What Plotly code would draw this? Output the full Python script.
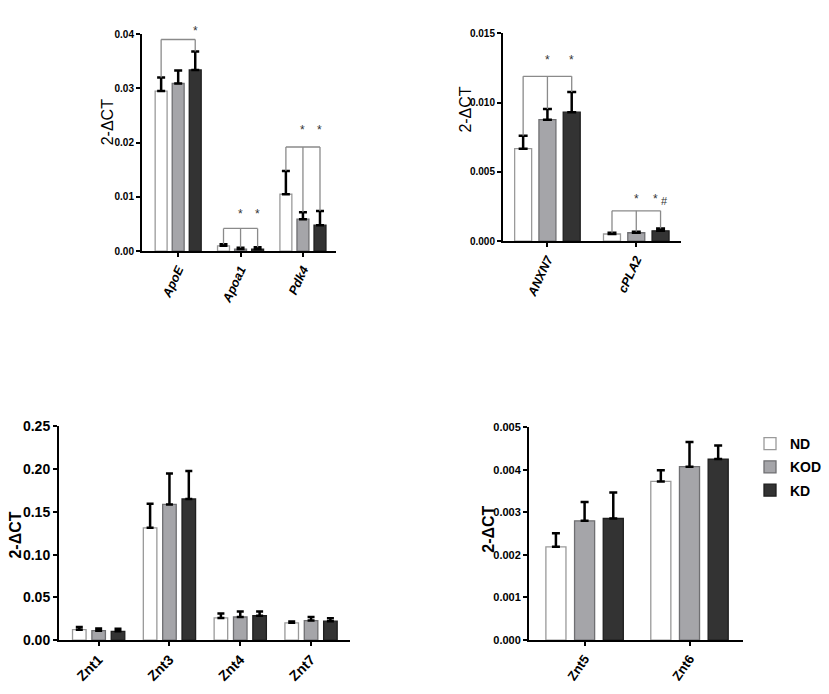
import plotly.graph_objects as go

# ---------------- data ----------------
groups = ["ND", "KOD", "KD"]

genes_a = ["ApoE", "Apoa1", "Pdk4"]
nd_a = [0.0295, 0.0010, 0.0105]
nd_a_err = [0.0025, 0.0003, 0.0043]
kod_a = [0.0309, 0.0004, 0.0059]
kod_a_err = [0.0024, 0.00025, 0.0013]
kd_a = [0.0334, 0.0004, 0.0048]
kd_a_err = [0.0034, 0.00035, 0.0026]

genes_b = ["ANXN7", "cPLA2"]
nd_b = [0.00668, 0.00052]
nd_b_err = [0.00094, 0.00009]
kod_b = [0.00877, 0.00061]
kod_b_err = [0.00078, 0.00007]
kd_b = [0.00931, 0.00075]
kd_b_err = [0.00146, 0.00017]

genes_c = ["Znt1", "Znt3", "Znt4", "Znt7"]
nd_c = [0.0122, 0.1313, 0.0259, 0.0202]
nd_c_err = [0.0030, 0.0281, 0.0053, 0.0015]
kod_c = [0.0110, 0.1587, 0.0270, 0.0228]
kod_c_err = [0.0027, 0.0361, 0.0065, 0.0042]
kd_c = [0.0103, 0.1651, 0.0285, 0.0221]
kd_c_err = [0.0030, 0.0328, 0.0050, 0.0034]

genes_d = ["Znt5", "Znt6"]
nd_d = [0.00219, 0.003725]
nd_d_err = [0.00032, 0.00026]
kod_d = [0.00280, 0.00407]
kod_d_err = [0.00044, 0.00058]
kd_d = [0.002855, 0.00425]
kd_d_err = [0.00061, 0.00032]

# significance brackets: (gene index, bracket level, groups with drop lines, star level, groups with stars)
sig_a = [(0, 0.0390, [0, 2], 0.0411, [2]),
         (1, 0.0042, [0, 1, 2], 0.0075, [1, 2]),
         (2, 0.0192, [0, 1, 2], 0.0229, [1, 2])]
sig_b = [(0, 0.0119, [0, 1, 2], 0.0133, [1, 2]),
         (1, 0.00219, [0, 1, 2], 0.00324, [1, 2])]
hash_b = (1, 2, 0.0029)  # gene index, group index, level of '#'

# ---------------- style ----------------
fills = ["#ffffff", "#a5a5a9", "#333333"]
outlines = ["#9a9a9a", "#6f6f72", "#1e1e1e"]
BARGAP = 0.18
SLOT = (1 - BARGAP) / 3
W, H = 829, 694

def px_dom(a, b):
    return [a / W, b / W]

def py_dom(top, bottom):
    return [1 - bottom / H, 1 - top / H]

panels = [
    dict(genes=genes_a, vals=[nd_a, kod_a, kd_a], errs=[nd_a_err, kod_a_err, kd_a_err],
         xd=px_dom(142, 336), yd=py_dom(26.7, 249), xr=[-0.58, 2.53], yr=[0, 0.04], dt=0.01, fmt=".2f",
         ticksz=10, xsz=12.5, xang=-65, xit="italic",
         cap=4, thick=2.5, title=(107, 117), tsz=16, tw="normal", legend=False),
    dict(genes=genes_b, vals=[nd_b, kod_b, kd_b], errs=[nd_b_err, kod_b_err, kd_b_err],
         xd=px_dom(503, 680.7), yd=py_dom(26, 238.7), xr=[-0.5, 1.5], yr=[0, 0.015], dt=0.005, fmt=".3f",
         ticksz=10, xsz=12.5, xang=-65, xit="italic",
         cap=4.5, thick=2.5, title=(466, 104), tsz=16, tw="normal", legend=False),
    dict(genes=genes_c, vals=[nd_c, kod_c, kd_c], errs=[nd_c_err, kod_c_err, kd_c_err],
         xd=px_dom(59, 350), yd=py_dom(428.3, 647), xr=[-0.56, 3.55], yr=[0, 0.25], dt=0.05, fmt=".2f",
         ticksz=14, xsz=14, xang=-45, xit="normal",
         cap=3.5, thick=2.5, title=(16, 539), tsz=16, tw="bold", legend=False),
    dict(genes=genes_d, vals=[nd_d, kod_d, kd_d], errs=[nd_d_err, kod_d_err, kd_d_err],
         xd=px_dom(529, 743), yd=py_dom(429, 647), xr=[-0.53, 1.51], yr=[0, 0.005], dt=0.001, fmt=".3f",
         ticksz=11, xsz=13, xang=-55, xit="normal",
         cap=4, thick=2.5, title=(489, 534), tsz=16, tw="bold", legend=True),
]

fig = go.Figure()
shapes = []
annotations = []

for i, p in enumerate(panels, start=1):
    xa = "x" if i == 1 else f"x{i}"
    ya = "y" if i == 1 else f"y{i}"
    for g in range(3):
        fig.add_trace(go.Bar(
            x=p["genes"], y=p["vals"][g], name=groups[g],
            xaxis=xa, yaxis=ya,
            marker=dict(color=fills[g], line=dict(color=outlines[g], width=1.3)),
            error_y=dict(type="data", symmetric=False, array=p["errs"][g],
                         arrayminus=[0] * len(p["genes"]),
                         color="#000000", thickness=p["thick"], width=p["cap"]),
            showlegend=p["legend"], legendgroup=groups[g],
        ))
    axis_common = dict(showline=True, linecolor="#000000", linewidth=2, ticks="outside",
                       ticklen=4, tickwidth=1.5, tickcolor="#000000", showgrid=False,
                       zeroline=False)
    fig.layout[f"xaxis{'' if i == 1 else i}"] = dict(
        axis_common, domain=p["xd"], anchor=ya, type="category", range=p["xr"],
        tickangle=p["xang"],
        tickfont=dict(family="Liberation Sans, Arial", size=p["xsz"], color="#000000",
                      weight="bold", style=p["xit"]))
    fig.layout[f"yaxis{'' if i == 1 else i}"] = dict(
        axis_common, domain=p["yd"], anchor=xa, range=p["yr"], dtick=p["dt"],
        tickformat=p["fmt"],
        tickfont=dict(family="Liberation Sans, Arial", size=p["ticksz"], color="#000000", weight="bold"))
    tx, ty = p["title"]
    annotations.append(dict(text="2-ΔCT", xref="paper", yref="paper", x=tx / W, y=1 - ty / H,
                            showarrow=False, textangle=-90, xanchor="center", yanchor="middle",
                            font=dict(family="Liberation Sans, Arial", size=p["tsz"], color="#000000",
                                      weight=p["tw"])))

def paper_y(p, v):
    d0, d1 = p["yd"]
    return d0 + (d1 - d0) * v / p["yr"][1]

# significance brackets
def add_sig(sig, panel_idx, p, star_size):
    xa = "x" if panel_idx == 1 else f"x{panel_idx}"
    ya = "y" if panel_idx == 1 else f"y{panel_idx}"
    vals, errs = p["vals"], p["errs"]
    for gi, level, drops, slevel, stars in sig:
        xs = [gi + (g - 1) * SLOT for g in range(3)]
        shapes.append(dict(type="line", xref=xa, yref=ya, x0=xs[0], x1=xs[2], y0=level, y1=level,
                           line=dict(color="#8a8a8a", width=1.3)))
        for g in drops:
            shapes.append(dict(type="line", xref=xa, yref=ya, x0=xs[g], x1=xs[g],
                               y0=level, y1=vals[g][gi] + errs[g][gi],
                               line=dict(color="#8a8a8a", width=1.3)))
        for g in stars:
            annotations.append(dict(text="*", xref=xa, yref="paper", x=xs[g], y=paper_y(p, slevel),
                                    showarrow=False, yshift=-3, xanchor="center", yanchor="middle",
                                    xshift=-5 if (panel_idx == 2 and gi == hash_b[0] and g == hash_b[1]) else 0,
                                    font=dict(family="Liberation Sans, Arial",
                                              size=star_size, color="#333333")))

add_sig(sig_a, 1, panels[0], 12)
add_sig(sig_b, 2, panels[1], 12)
gi, g, lvl = hash_b
annotations.append(dict(text="#", xref="x2", yref="paper", x=gi + (g - 1) * SLOT,
                        y=paper_y(panels[1], lvl), showarrow=False, xanchor="center", yanchor="middle",
                        xshift=4, font=dict(family="Liberation Sans, Arial", size=11, color="#333333")))

fig.update_layout(
    width=W, height=H, autosize=False,
    margin=dict(l=0, r=0, t=0, b=0),
    paper_bgcolor="#ffffff", plot_bgcolor="#ffffff",
    barmode="group", bargap=BARGAP, bargroupgap=0.3,
    shapes=shapes, annotations=annotations,
    legend=dict(x=750 / W, y=1 - 430 / H, xanchor="left", yanchor="top",
                font=dict(family="Liberation Sans, Arial", size=14, color="#000000", weight="bold"),
                bgcolor="rgba(0,0,0,0)", tracegroupgap=2),
    font=dict(family="Liberation Sans, Arial", color="#000000"),
)

fig.write_html("out.html", config={"displayModeBar": False},
               post_script="document.body.style.margin='0';")
